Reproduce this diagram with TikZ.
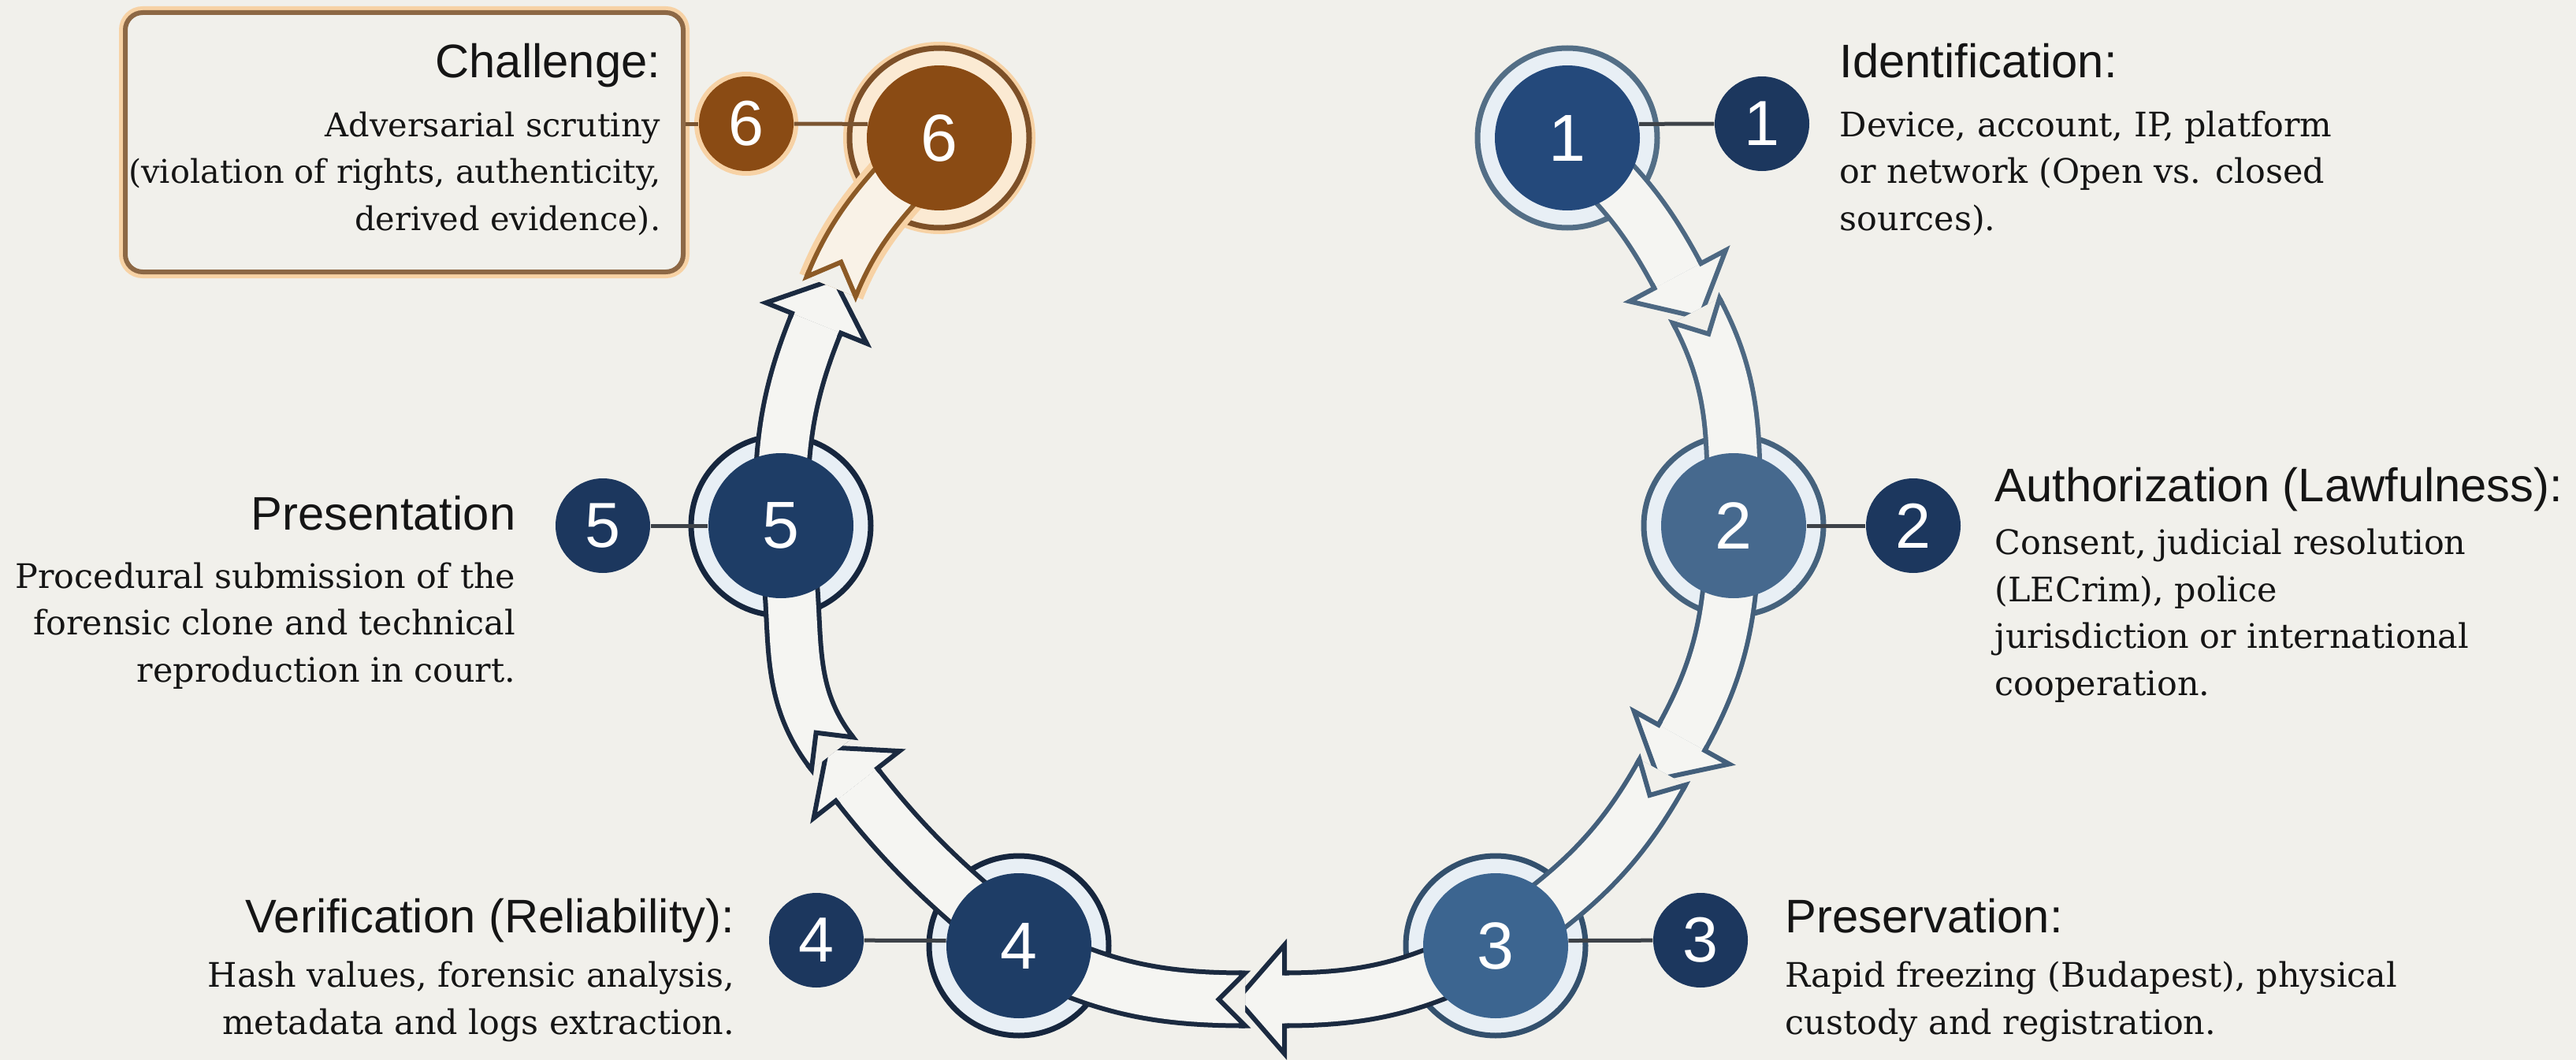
\documentclass[tikz,border=0pt]{standalone}
\usepackage{fontspec}
\setmainfont{DejaVu Serif}
\newfontfamily\headfont{Liberation Sans}
\usetikzlibrary{calc,decorations.markings}

\definecolor{PaperBg}{RGB}{241,240,235}
\definecolor{BandFill}{RGB}{245,245,242}
\definecolor{CreamFill}{RGB}{249,242,231}
\definecolor{GapBlue}{RGB}{232,239,245}
\definecolor{GapCream}{RGB}{251,234,211}
\definecolor{DiscOne}{RGB}{36,73,123}
\definecolor{DiscTwo}{RGB}{70,105,142}
\definecolor{DiscThree}{RGB}{60,101,144}
\definecolor{DiscDeep}{RGB}{30,61,102}
\definecolor{SmallNavy}{RGB}{28,55,94}
\definecolor{RingOne}{RGB}{83,110,134}
\definecolor{RingTwo}{RGB}{69,98,125}
\definecolor{RingThree}{RGB}{51,80,109}
\definecolor{RingDeep}{RGB}{22,38,62}
\definecolor{EdgeOne}{RGB}{77,104,130}
\definecolor{EdgeTwo}{RGB}{67,95,123}
\definecolor{EdgeDeep}{RGB}{27,42,64}
\definecolor{Rust}{RGB}{138,75,20}
\definecolor{RustRing}{RGB}{125,80,40}
\definecolor{RustEdge}{RGB}{140,90,38}
\definecolor{RustGlow}{RGB}{247,210,165}
\definecolor{BoxEdge}{RGB}{141,104,69}
\definecolor{TieGray}{RGB}{61,66,72}
\definecolor{TieRust}{RGB}{122,84,48}
\definecolor{TextInk}{RGB}{21,21,21}

% hollow head at the end of a band
\newcommand{\blockhead}[1]{%
  \fill[BandFill] (0,3.35mm) -- (0,6.9mm) -- (6mm,0) -- (0,-6.9mm) -- (0,-3.35mm) -- cycle;
  \draw[#1, line width=0.6mm, line join=miter]
    (-0.6mm,3.35mm) -- (0,3.35mm) -- (0,6.9mm) -- (6mm,0) -- (0,-6.9mm) -- (0,-3.35mm) -- (-0.6mm,-3.35mm);}
% v-notch cut into the start of a band
\newcommand{\blocknotch}[1]{%
  \fill[PaperBg] (0,3.4mm) -- (3.4mm,0) -- (0,-3.4mm) -- cycle;
  \draw[#1, line width=0.6mm, line join=miter]
    (0.8mm,3.35mm) -- (0,3.35mm) -- (3.35mm,0) -- (0,-3.35mm) -- (0.8mm,-3.35mm);}

\begin{document}
\begin{tikzpicture}[
    bigdot/.style={circle, minimum size=18.4mm, inner sep=0pt, text=white,
        font=\headfont\fontsize{24}{24}\selectfont},
    smalldot/.style={circle, minimum size=12mm, inner sep=0pt, fill=SmallNavy, text=white,
        font=\headfont\fontsize{23}{23}\selectfont},
    ring/.style={draw=#1, line width=0.7mm, fill=GapBlue},
    band/.style={draw=BandFill, line width=6.1mm, preaction={draw=#1, line width=7.3mm}},
    headend/.style={postaction={decorate, decoration={markings,
        mark=at position 1 with {\blockhead{#1}}}}},
    notchstart/.style={postaction={decorate, decoration={markings,
        mark=at position 0 with {\blocknotch{#1}}}}},
    tie/.style={draw=TieGray, line width=0.5mm},
    stephead/.style={font=\headfont\fontsize{17}{20}\selectfont, inner sep=0pt, text=TextInk},
    stepbody/.style={font=\fontsize{12.2}{16.9}\selectfont, inner sep=0pt, text=TextInk}]

\useasboundingbox[fill=PaperBg] (0,0) rectangle (32.69,-13.45);

% ring centres
\coordinate (p1) at (19.89,-1.75);
\coordinate (p2) at (22.00,-6.67);
\coordinate (p3) at (18.98,-12.00);
\coordinate (p4) at (12.93,-12.00);
\coordinate (p5) at (9.91,-6.67);
\coordinate (p6) at (11.92,-1.75);

\draw[ring=RingOne] (p1) circle (11.4mm);
\draw[ring=RingTwo] (p2) circle (11.4mm);
\draw[ring=RingThree] (p3) circle (11.4mm);
\draw[ring=RingDeep] (p4) circle (11.4mm);
\draw[ring=RingDeep] (p5) circle (11.4mm);
\draw[ring=RustRing, fill=GapCream, preaction={draw=RustGlow, line width=1.6mm}] (p6) circle (11.4mm);

% where each head ends and the next band starts
\coordinate (m12) at (21.29,-3.50);
\coordinate (k12) at ($(m12)+(-62:5mm)$);
\coordinate (m23) at (21.34,-9.36);
\coordinate (k23) at ($(m23)+(-119:5mm)$);
\coordinate (m34) at (16.30,-12.68);
\coordinate (k34) at ($(m34)+(180:5mm)$);
\coordinate (m45) at (10.87,-9.955);
\coordinate (k45) at ($(m45)+(128:5mm)$);
\coordinate (m56) at (10.36,-4.10);
\coordinate (k56) at ($(m56)+(68:5mm)$);

\draw[band=EdgeOne, headend=EdgeOne] (p1) to[out=-42, in=118] (m12);
\draw[band=EdgeOne, notchstart=EdgeOne] (k12) to[out=-62, in=90] (p2);
\draw[band=EdgeTwo, headend=EdgeTwo] (p2) to[out=-92, in=61] (m23);
\draw[band=EdgeTwo, notchstart=EdgeTwo] (k23) to[out=-119, in=35] (p3);
\draw[band=EdgeDeep, headend=EdgeDeep] (p3) to[out=-152, in=0] (m34);
\draw[band=EdgeDeep, notchstart=EdgeDeep] (k34) to[out=180, in=-27] (p4);
\draw[band=EdgeDeep, headend=EdgeDeep] (p4) to[out=140, in=-52] (m45);
\draw[band=EdgeDeep, notchstart=EdgeDeep] (k45) to[out=128, in=-75] (p5);
\draw[band=EdgeDeep, headend=EdgeDeep] (p5) to[out=90, in=-112] (m56);
\draw[preaction={draw=RustGlow, line width=8.7mm}, band=RustEdge, draw=CreamFill,
    notchstart=RustEdge] (k56) to[out=68, in=-132] (p6);

% step discs
\node[bigdot, fill=DiscOne] (n1) at (p1) {1};
\node[bigdot, fill=DiscTwo] (n2) at (p2) {2};
\node[bigdot, fill=DiscThree] (n3) at (p3) {3};
\node[bigdot, fill=DiscDeep] (n4) at (p4) {4};
\node[bigdot, fill=DiscDeep] (n5) at (p5) {5};
\node[bigdot, fill=Rust] (n6) at (p6) {6};

\node[smalldot] (d1) at (22.36,-1.57) {1};
\node[smalldot] (d2) at (24.28,-6.67) {2};
\node[smalldot] (d3) at (21.58,-11.93) {3};
\node[smalldot] (d4) at (10.36,-11.93) {4};
\node[smalldot] (d5) at (7.65,-6.67) {5};
\node[smalldot, fill=Rust, preaction={draw=RustGlow, line width=1.2mm}] (d6) at (9.47,-1.57) {6};

\node[draw=BoxEdge, line width=0.6mm, rounded corners=2.2mm, fill=PaperBg,
    preaction={draw=RustGlow, line width=1.6mm},
    minimum width=7.08cm, minimum height=3.29cm] (box) at (5.13,-1.805) {};

\draw[tie] (d1) -- (n1.11);
\draw[tie] (d2) -- (n2);
\draw[tie] (d3) -- (n3.4);
\draw[tie] (d4) -- (n4.176);
\draw[tie] (d5) -- (n5);
\draw[tie, draw=TieRust] (d6) -- (n6.169);
\draw[tie, draw=TieRust] (box.east |- d6) -- (d6);

% labels (body nodes sit on the baseline of their last line)
\node[stephead, anchor=base west] (h1) at (23.34,-0.99) {Identification:};
\node[stepbody, anchor=base west, align=left] (b1) at (23.34,-2.92)
    {Device, account, IP, platform\\or network (Open vs. closed\\sources).};
\node[stephead, anchor=base west] (h2) at (25.31,-6.36) {Authorization (Lawfulness):};
\node[stepbody, anchor=base west, align=left] (b2) at (25.31,-8.82)
    {Consent, judicial resolution\\(LECrim), police\\jurisdiction or international\\cooperation.};
\node[stephead, anchor=base west] (h3) at (22.65,-11.83) {Preservation:};
\node[stepbody, anchor=base west, align=left] (b3) at (22.65,-13.12)
    {Rapid freezing (Budapest), physical\\custody and registration.};
\node[stephead, anchor=base east] (h4) at (9.33,-11.83) {Verification (Reliability):};
\node[stepbody, anchor=base east, align=right] (b4) at (9.33,-13.12)
    {Hash values, forensic analysis,\\metadata and logs extraction.};
\node[stephead, anchor=base east] (h5) at (6.55,-6.72) {Presentation};
\node[stepbody, anchor=base east, align=right] (b5) at (6.55,-8.65)
    {Procedural submission of the\\forensic clone and technical\\reproduction in court.};
\node[stephead, anchor=base east] (h6) at (8.39,-0.98) {Challenge:};
\node[stepbody, font=\fontsize{11.8}{16.9}\selectfont, anchor=base east, align=right] (b6) at (8.39,-2.92)
    {Adversarial scrutiny\\(violation of rights, authenticity,\\derived evidence).};
\end{tikzpicture}
\end{document}
